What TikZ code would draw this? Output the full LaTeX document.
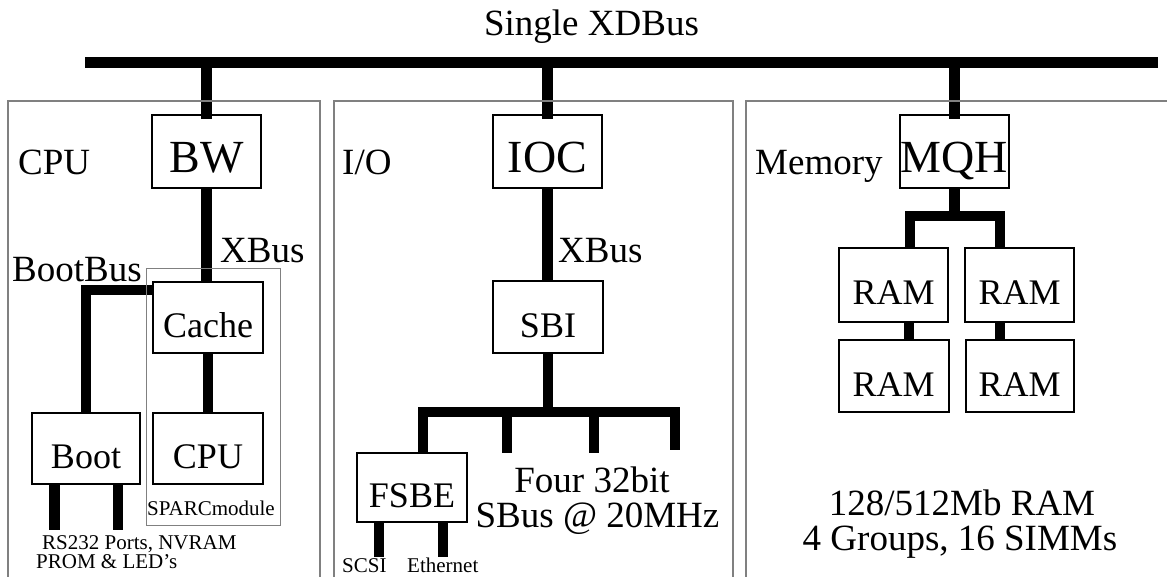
\documentclass[tikz,border=0pt]{standalone}
\usepackage{fontspec}
\setmainfont{Liberation Serif}
\begin{document}
\begin{tikzpicture}[x=1pt,y=-1pt,
  bus/.style={line width=10.5pt},
  panel/.style={draw=black!50,line width=1.3pt},
  box/.style={draw,line width=2pt,inner sep=0pt,text depth=0pt,text height=40pt,font=\fontsize{36}{40}\selectfont},
  bigbox/.style={box,text height=43pt,font=\fontsize{46}{50}\selectfont},
  lbl/.style={inner sep=0pt,font=\fontsize{37}{40}\selectfont},
  small/.style={inner sep=0pt,font=\fontsize{21}{23}\selectfont}]
\useasboundingbox (0,0) rectangle (1167,577);
% boxes
\node[bigbox,minimum width=109pt,minimum height=73pt] (BW) at (206.5,151.5) {BW};
\node[bigbox,minimum width=109pt,minimum height=73pt] (IOC) at (547.5,151.5) {IOC};
\node[bigbox,minimum width=109pt,minimum height=73pt] (MQH) at (954.5,151.5) {MQH};
\node[box,minimum width=110pt,minimum height=71pt] (Cache) at (208,317.5) {Cache};
\node[box,minimum width=110pt,minimum height=72pt] (SBI) at (548,317) {SBI};
\node[box,minimum width=108pt,minimum height=71pt] (Boot) at (86,448.5) {Boot};
\node[box,minimum width=110pt,minimum height=71pt] (CPUb) at (208,448.5) {CPU};
\node[box,minimum width=110pt,minimum height=69pt] (FSBE) at (412,487.5) {FSBE};
\node[box,minimum width=109pt,minimum height=74pt] (RAM1) at (893.5,285) {RAM};
\node[box,minimum width=109pt,minimum height=74pt] (RAM2) at (1019.5,285) {RAM};
\node[box,minimum width=110pt,minimum height=72pt] (RAM3) at (893.5,376) {RAM};
\node[box,minimum width=108pt,minimum height=72pt] (RAM4) at (1019.5,376) {RAM};
% coordinates
\coordinate (busL) at (85,62.5);
\coordinate (busR) at (1158,62.5);
\coordinate (b1) at (54.5,530);
\coordinate (b2) at (118,530);
\coordinate (bary) at (0,412);
\coordinate (s2) at (507,453);
\coordinate (s3) at (594,453);
\coordinate (s4) at (675,450);
\coordinate (f1) at (379,557);
\coordinate (f2) at (443,557);
\coordinate (mbary) at (0,216);
% bus lines
\draw[bus] (busL) -- (busR);
\draw[bus] (BW.north |- busL) -- ([yshift=-5pt]BW.north);
\draw[bus] (IOC.north |- busL) -- ([yshift=-5pt]IOC.north);
\draw[bus] (MQH.north |- busL) -- ([yshift=-5pt]MQH.north);
% CPU panel
\draw[bus] (BW.south) -- (BW.south |- Cache.north);
\draw[bus] ([yshift=-9pt]Cache.north west) -| (Boot.north);
\draw[bus] (Cache.south) -- (CPUb.north);
\draw[bus] (b1 |- Boot.south) -- (b1);
\draw[bus] (b2 |- Boot.south) -- (b2);
% I/O panel
\draw[bus] (IOC.south) -- (IOC.south |- SBI.north);
\draw[bus] (SBI.south) -- (SBI.south |- bary);
\draw[bus] ([xshift=11pt]FSBE.north) |- (s4 |- bary) -- (s4);
\draw[bus] (s2 |- bary) -- (s2);
\draw[bus] (s3 |- bary) -- (s3);
\draw[bus] (f1 |- FSBE.south) -- (f1);
\draw[bus] (f2 |- FSBE.south) -- (f2);
% Memory panel
\draw[bus] (MQH.south) -- (MQH.south |- mbary);
\draw[bus] ([xshift=16.5pt]RAM1.north) |- ([xshift=-19.5pt]RAM2.north |- mbary) -- ([xshift=-19.5pt]RAM2.north);
\draw[bus] ([xshift=15.5pt]RAM1.south) -- ([xshift=15.5pt]RAM3.north);
\draw[bus] ([xshift=-19.5pt]RAM2.south) -- ([xshift=-19.5pt]RAM4.north);
% panels
\draw[panel] (8,577) -- (8,101) -- (320,101) -- (320,577);
\draw[panel] (334,577) -- (334,101) -- (733,101) -- (733,577);
\draw[panel] (746,577) -- (746,101) -- (1167,101);
\draw[panel,line width=1pt] (146,269) rectangle (280,525);
% labels
\node[lbl,anchor=base] (title) at (591.5,36) {Single XDBus};
\node[lbl,anchor=base west] (lcpu) at (18,175) {CPU};
\node[lbl,anchor=base west] (lxb1) at (220,263) {XBus};
\node[lbl,anchor=base west] (lboot) at (12,282) {BootBus};
\node[small,anchor=base west] (lsparc) at (147,515) {SPARCmodule};
\node[small,anchor=base west] (lrs) at (42,549) {RS232 Ports, NVRAM};
\node[small,anchor=base west] (lprom) at (36,568) {PROM \& LED’s};
\node[lbl,anchor=base west] (lio) at (342,175) {I/O};
\node[lbl,anchor=base west] (lxb2) at (558,263) {XBus};
\node[lbl,anchor=base] (lfour) at (592,492) {Four 32bit};
\node[lbl,anchor=base] (lsbus) at (597.5,527) {SBus @ 20MHz};
\node[small,anchor=base west] (lscsi) at (342,572) {SCSI};
\node[small,anchor=base west] (leth) at (407,572) {Ethernet};
\node[lbl,anchor=base west] (lmem) at (755,175) {Memory};
\node[lbl,anchor=base] (lram) at (962,515) {128/512Mb RAM};
\node[lbl,anchor=base] (lgrp) at (960,550) {4 Groups, 16 SIMMs};
\end{tikzpicture}
\end{document}
